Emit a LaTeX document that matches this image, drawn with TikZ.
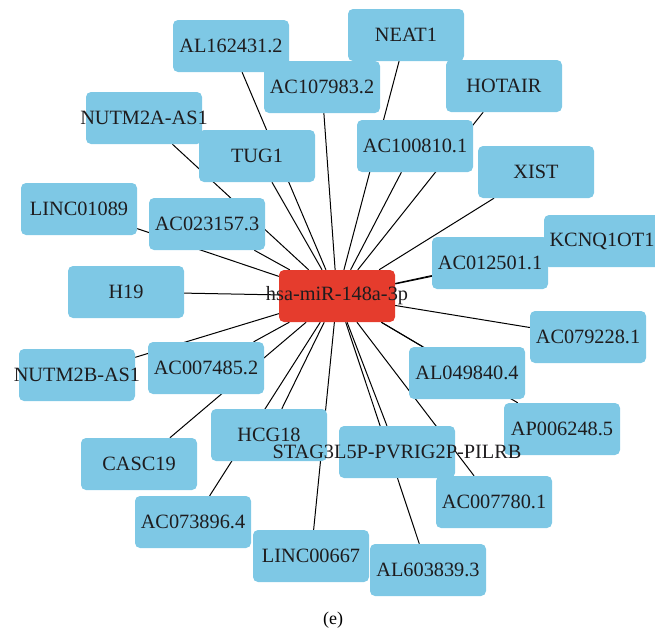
\documentclass[tikz,border=0pt]{standalone}
\usepackage{fontspec}
\setmainfont{Liberation Serif}
\usetikzlibrary{backgrounds}
\definecolor{genecolor}{RGB}{126,200,229}
\definecolor{mirnacolor}{RGB}{229,60,45}
\definecolor{labelcolor}{RGB}{30,28,30}
\tikzset{%
  % Specifications for style of nodes:
        genebase/.style = {rectangle, rounded corners=5pt, inner sep=0pt,
                           minimum width=116pt, minimum height=52pt,
                           text centered, text=labelcolor,
                           font=\fontsize{20.3}{23}\selectfont},
  gene/.style = {genebase, fill=genecolor},
  mirna/.style = {genebase, fill=mirnacolor},
  edge/.style = {draw=black, line width=1pt}
}

\begin{document}
\begin{tikzpicture}[x=1pt, y=-1pt]
  \useasboundingbox (0,0) rectangle (655,635);

  \node (hub)      [mirna] at (337,296) {\makebox[0pt]{hsa-miR-148a-3p}};

  \node (al162431) [gene] at (231,46)  {AL162431.2};
  \node (ac107983) [gene] at (322,87)  {AC107983.2};
  \node (neat1)    [gene] at (406,35)  {NEAT1};
  \node (hotair)   [gene] at (504,86)  {HOTAIR};
  \node (ac100810) [gene] at (415,146) {AC100810.1};
  \node (xist)     [gene] at (536,172) {XIST};
  \node (kcnq1ot1) [gene] at (602,241) {\makebox[0pt]{KCNQ1OT1}};
  \node (ac012501) [gene] at (490,263) {AC012501.1};
  \node (ac079228) [gene] at (588,337) {AC079228.1};
  \node (al049840) [gene] at (467,373) {AL049840.4};
  \node (ap006248) [gene] at (562,429) {AP006248.5};
  \node (ac007780) [gene] at (494,502) {AC007780.1};
  \node (al603839) [gene] at (428,570) {AL603839.3};
  \node (linc00667)[gene] at (311,556) {LINC00667};
  \node (ac073896) [gene] at (193,522) {AC073896.4};
  \node (casc19)   [gene] at (139,464) {CASC19};
  \node (hcg18)    [gene] at (269,435) {HCG18};
  \node (stag3)    [gene] at (397,452) {\makebox[0pt]{STAG3L5P-PVRIG2P-PILRB}};
  \node (ac007485) [gene] at (206,368) {AC007485.2};
  \node (nutm2b)   [gene] at (77,375)  {\makebox[0pt]{NUTM2B-AS1}};
  \node (h19)      [gene] at (126,292) {H19};
  \node (linc01089)[gene] at (79,209)  {LINC01089};
  \node (ac023157) [gene] at (207,224) {AC023157.3};
  \node (nutm2a)   [gene] at (144,118) {\makebox[0pt]{NUTM2A-AS1}};
  \node (tug1)     [gene] at (257,156) {TUG1};

  \node (caption) at (333,620) {\fontsize{18}{20}\selectfont (e)};

  \begin{scope}[on background layer]
    \draw[edge] (hub) -- (al162431);
    \draw[edge] (hub) -- (ac107983);
    \draw[edge] (hub) -- (neat1);
    \draw[edge] (hub) -- (hotair);
    \draw[edge] (hub) -- (ac100810);
    \draw[edge] (hub) -- (xist);
    \draw[edge] (hub) -- (kcnq1ot1);
    \draw[edge] (hub) -- (ac012501);
    \draw[edge] (hub) -- (ac079228);
    \draw[edge] (hub) -- (al049840);
    \draw[edge] (hub) -- (ap006248);
    \draw[edge] (hub) -- (stag3);
    \draw[edge] (hub) -- (ac007780);
    \draw[edge] (hub) -- (al603839);
    \draw[edge] (hub) -- (linc00667);
    \draw[edge] (hub) -- (ac073896);
    \draw[edge] (hub) -- (casc19);
    \draw[edge] (hub) -- (hcg18);
    \draw[edge] (hub) -- (ac007485);
    \draw[edge] (hub) -- (nutm2b);
    \draw[edge] (hub) -- (h19);
    \draw[edge] (hub) -- (linc01089);
    \draw[edge] (hub) -- (ac023157);
    \draw[edge] (hub) -- (nutm2a);
    \draw[edge] (hub) -- (tug1);
  \end{scope}
\end{tikzpicture}
\end{document}
